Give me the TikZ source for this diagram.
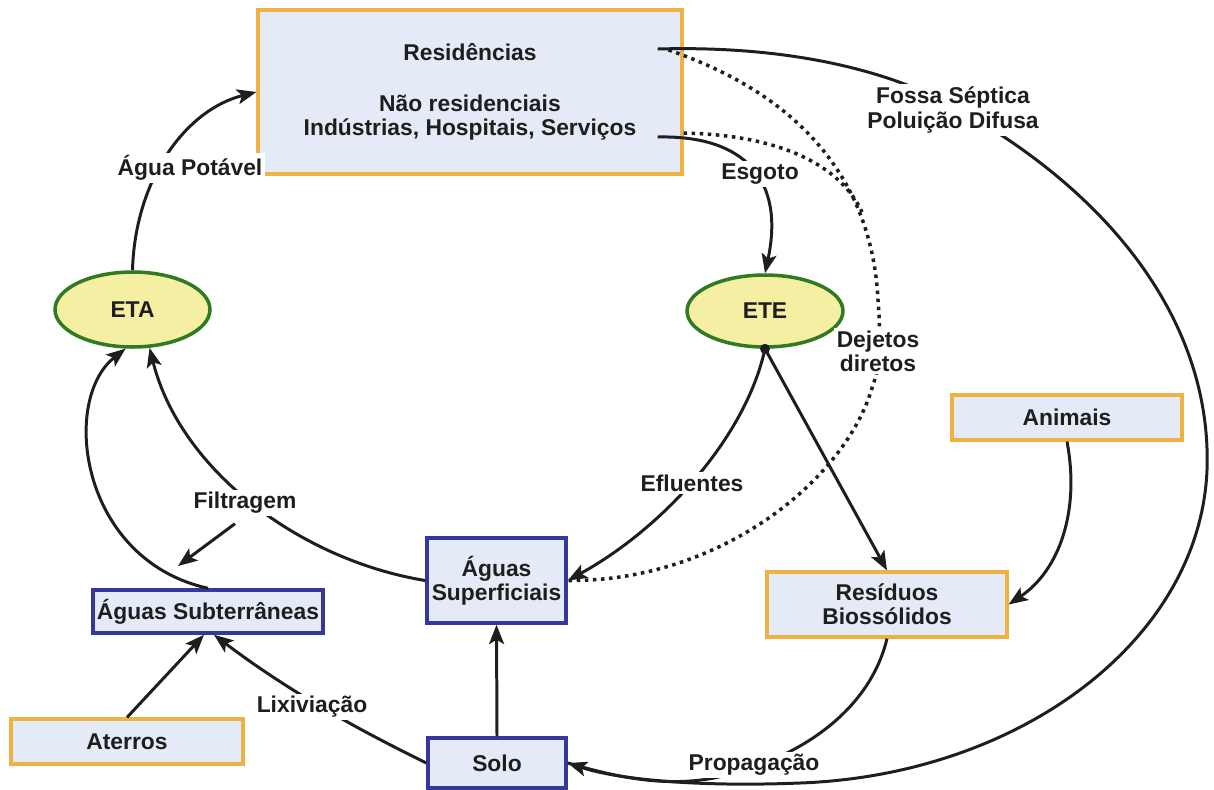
\documentclass[tikz,border=0pt]{standalone}
\usepackage{fontspec}
\setmainfont{Liberation Sans}
\usetikzlibrary{arrows.meta,shapes.geometric,calc}
\definecolor{obord}{HTML}{EFB143}
\definecolor{bbord}{HTML}{34389C}
\definecolor{boxfill}{HTML}{E5EBF6}
\definecolor{efill}{HTML}{F4EFA2}
\definecolor{gbord}{HTML}{2F7A22}
\definecolor{txt}{HTML}{1E1E1E}
\begin{document}
\begin{tikzpicture}[x=0.02cm,y=-0.02cm,
  every node/.style={font=\bfseries\fontsize{13}{13.6}\selectfont, text=txt},
  obox/.style={draw=obord, line width=1.8pt, fill=boxfill, align=center, inner sep=0pt},
  bbox/.style={draw=bbord, line width=2pt, fill=boxfill, align=center, inner sep=0pt},
  station/.style={ellipse, draw=gbord, line width=2pt, fill=efill, inner sep=0pt},
  flow/.style={line width=1.7pt, draw=txt, -{Stealth[length=11pt,width=8.5pt,inset=2.5pt]}},
  plainline/.style={line width=1.7pt, draw=txt},
  dots/.style={line width=2pt, draw=txt, dash pattern=on 2pt off 2.6pt},
  lbl/.style={fill=white, inner sep=1.5pt, align=center}]
\useasboundingbox (0,0) rectangle (1214,789);

% boxes
\node[obox, minimum width=8.48cm, minimum height=3.28cm] (res) at (470,92)
  {Residências\\[15.3pt]Não residenciais\\Indústrias, Hospitais, Serviços};
\node[station, minimum width=3.1cm, minimum height=1.5cm] (eta) at (132.5,309.5) {ETA};
\node[station, minimum width=3.12cm, minimum height=1.44cm] (ete) at (765,311) {ETE};
\node[bbox, minimum width=2.78cm, minimum height=1.7cm] (sup) at (496.5,580.5) {Águas\\Superficiais};
\node[bbox, minimum width=4.6cm, minimum height=0.86cm] (sub) at (208,611.5) {Águas Subterrâneas};
\node[obox, minimum width=4.64cm, minimum height=0.9cm] (ate) at (127,741.5) {Aterros};
\node[bbox, minimum width=2.76cm, minimum height=1.0cm] (solo) at (497,763) {Solo};
\node[obox, minimum width=4.6cm, minimum height=0.9cm] (ani) at (1067,417.5) {Animais};
\node[obox, minimum width=4.8cm, minimum height=1.3cm] (resb) at (887,604.5) {Resíduos\\Biossólidos};

% connectors
\draw[flow] (eta.north) .. controls (135,180) and (185,110) .. (res.west);
\draw[flow] ($(res.east)+(-26,45)$) .. controls (745,135) and (785,180) .. (ete.north);
\draw[flow] ($(res.east)+(-26,-43)$) .. controls (800,45) and (900,75) .. (960,110)
  .. controls (1120,200) and (1212,330) .. (1207,470)
  .. controls (1200,640) and (1020,775) .. (800,783)
  .. controls (700,787) and (620,780) .. (solo.east);
\draw[plainline] (resb.south) .. controls (870,710) and (800,760) .. (714,778)
  .. controls (660,788) and (610,775) .. (solo.east);
\draw[dots] ($(res.east)+(-15,-42)$) .. controls (800,95) and (872,180) .. (878,300)
  .. controls (882,350) and (878,372) .. (872,388)
  .. controls (845,480) and (720,582) .. (sup.east);
\draw[dots] ($(res.east)+(0,41)$) .. controls (780,135) and (840,165) .. (862,212);
\draw[flow] (ete.south) .. controls (745,440) and (660,530) .. (sup.east);
\draw[flow] (ete.south) -- (resb.north);
\fill[txt] (ete.south) circle[radius=0.1cm];
\draw[flow] (ani.south) .. controls (1080,510) and (1060,570) .. (resb.east);
\draw[flow] (sup.west) .. controls (300,560) and (180,470) .. (eta.-66);
\draw[flow] (sub.north) .. controls (80,560) and (60,400) .. (eta.-100);
\draw[flow] (ate.north) -- ($(sub.south)+(-4,0)$);
\draw[flow] (solo.west) .. controls (380,740) and (300,700) .. ($(sub.south)+(6,0)$);
\draw[flow] (solo.north) -- (sup.south);

% labels
\node[lbl] (lagua) at (190,168) {Água Potável};
\node[lbl] (lesg) at (760,174) {Esgoto};
\node[lbl] (lfossa) at (953,110) {Fossa Séptica\\[1pt]Poluição Difusa};
\node[lbl] (ldej) at (878,351) {Dejetos\\diretos};
\node[lbl] (lfilt) at (245,503) {Filtragem};
\node[lbl] (lefl) at (692,483) {Efluentes};
\node[lbl] (llix) at (312,707) {Lixiviação};
\node[lbl] (lprop) at (754,765) {Propagação};
\coordinate (fend) at (178,566);
\draw[flow] ($(lfilt.south)+(-10,7)$) -- (fend);
\end{tikzpicture}
\end{document}
